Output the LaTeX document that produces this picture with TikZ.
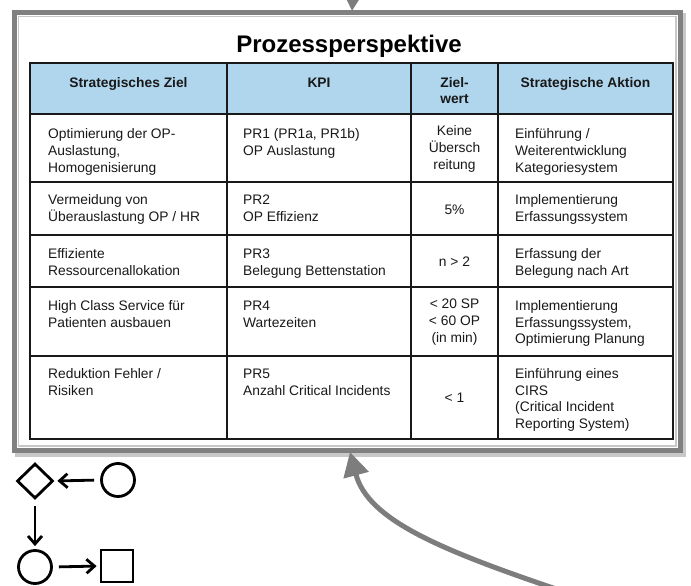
\documentclass[tikz,border=0pt]{standalone}
\usepackage{fontspec}
\setmainfont{Liberation Sans}
\usetikzlibrary{arrows.meta,shapes.geometric}
\definecolor{hdrblue}{RGB}{176,214,238}
\definecolor{framegray}{RGB}{128,128,128}
\definecolor{shadowgray}{RGB}{200,200,200}
\definecolor{arrowgray}{RGB}{125,125,125}
\definecolor{ink}{RGB}{25,25,25}
\tikzset{
  cellfont/.style={font=\fontsize{13.8}{16.7}\selectfont, text=ink, inner sep=0pt},
  lefttext/.style={cellfont, anchor=north west, align=left},
  midtext/.style={cellfont, anchor=center, align=center},
  headtext/.style={cellfont, font=\fontsize{13.8}{16.7}\selectfont\bfseries, anchor=north, align=center},
  gridline/.style={draw=ink, line width=2pt},
  bigarrow/.style={draw=arrowgray, line width=5pt, -{Triangle[length=24pt,width=25pt]}},
  legshape/.style={draw=black, line width=2.8pt, inner sep=0pt},
  legarrow/.style={draw=black, line width=2.8pt, -{Straight Barb[length=8pt,width=14pt]}, shorten <=6pt, shorten >=3pt},
}
\begin{document}
\begin{tikzpicture}[x=1pt,y=-1pt]
\useasboundingbox (0,0) rectangle (691,586);
\clip (0,0) rectangle (691,586);
\fill[white] (0,0) rectangle (691,586);
% frame with shadow
\draw[shadowgray, line width=6pt] (17.5,16) rectangle (683,454);
\draw[framegray, line width=5pt, fill=white] (14.5,12.5) rectangle (680,450);
\draw[shadowgray, line width=1.5pt] (18.5,16.5) rectangle (676,446);
% title
\node[font=\fontsize{24}{28}\selectfont\bfseries, text=black, anchor=base, inner sep=0pt] (title) at (349,52.5) {Prozessperspektive};
% table
\fill[hdrblue] (30,63) rectangle (673,114);
\foreach \yy in {114,182,235,287,356} {\draw[gridline] (30,\yy) -- (673,\yy);}
\foreach \xx in {227,411,498} {\draw[gridline] (\xx,63) -- (\xx,439);}
\draw[gridline, line width=2.4pt] (30,63) rectangle (673,439);
% header
\node[headtext] (h1) at (128.5,75.3) {\strut Strategisches Ziel};
\node[headtext] (h2) at (319,75.3) {\strut KPI};
\node[headtext] (h3) at (454.5,75.3) {\strut Ziel-\\wert};
\node[headtext] (h4) at (585.5,75.3) {\strut Strategische Aktion};
% row 1 (top 114)
\node[lefttext] (r1a) at (48,127) {\strut Optimierung der OP-\\Auslastung,\\Homogenisierung};
\node[lefttext] (r1b) at (243,127) {\strut PR1 (PR1a, PR1b)\\OP Auslastung};
\node[midtext]  (r1c) at (454.5,149) {Keine\\Übersch\\reitung};
\node[lefttext] (r1d) at (515,127) {\strut Einführung /\\Weiterentwicklung\\Kategoriesystem};
% row 2 (top 182)
\node[lefttext] (r2a) at (48,193) {\strut Vermeidung von\\Überauslastung OP / HR};
\node[lefttext] (r2b) at (243,193) {\strut PR2\\OP Effizienz};
\node[midtext]  (r2c) at (454.5,209.5) {5\%};
\node[lefttext] (r2d) at (515,193) {\strut Implementierung\\Erfassungssystem};
% row 3 (top 235)
\node[lefttext] (r3a) at (48,246.5) {\strut Effiziente\\Ressourcenallokation};
\node[lefttext] (r3b) at (243,246.5) {\strut PR3\\Belegung Bettenstation};
\node[midtext]  (r3c) at (454.5,262) {n > 2};
\node[lefttext] (r3d) at (515,246.5) {\strut Erfassung der\\Belegung nach Art};
% row 4 (top 287)
\node[lefttext] (r4a) at (48,298.5) {\strut High Class Service für\\Patienten ausbauen};
\node[lefttext] (r4b) at (243,298.5) {\strut PR4\\Wartezeiten};
\node[midtext]  (r4c) at (454.5,322) {< 20 SP\\< 60 OP\\(in min)};
\node[lefttext] (r4d) at (515,298.5) {\strut Implementierung\\Erfassungssystem,\\Optimierung Planung};
% row 5 (top 356)
\node[lefttext] (r5a) at (48,366.5) {\strut Reduktion Fehler /\\Risiken};
\node[lefttext] (r5b) at (243,366.5) {\strut PR5\\Anzahl Critical Incidents};
\node[midtext]  (r5c) at (454.5,398) {< 1};
\node[lefttext] (r5d) at (515,366.5) {\strut Einführung eines\\CIRS\\(Critical Incident\\Reporting System)};
% big gray arrows
\coordinate (topstart) at (355,-40);
\coordinate (toptip) at (352,11);
\draw[bigarrow] (topstart) -- (toptip);
\coordinate (curvestart) at (565,592);
\coordinate (curvetip) at (350,452);
\draw[bigarrow] (curvestart) .. controls (440,550) and (368,520) .. (curvetip);
% legend
\node[legshape, diamond, minimum width=36pt, minimum height=35pt] (ldia) at (35,481) {};
\node[legshape, circle, minimum size=33pt] (lcirc1) at (118,480) {};
\node[legshape, circle, minimum size=33pt] (lcirc2) at (35,567) {};
\node[legshape, rectangle, minimum size=32pt] (lsq) at (117,566) {};
\draw[legarrow] (lcirc1.west) -- (ldia.east);
\draw[legarrow] (ldia.south) -- (lcirc2.north);
\draw[legarrow] (lcirc2.east) -- (lsq.west);
\end{tikzpicture}
\end{document}
